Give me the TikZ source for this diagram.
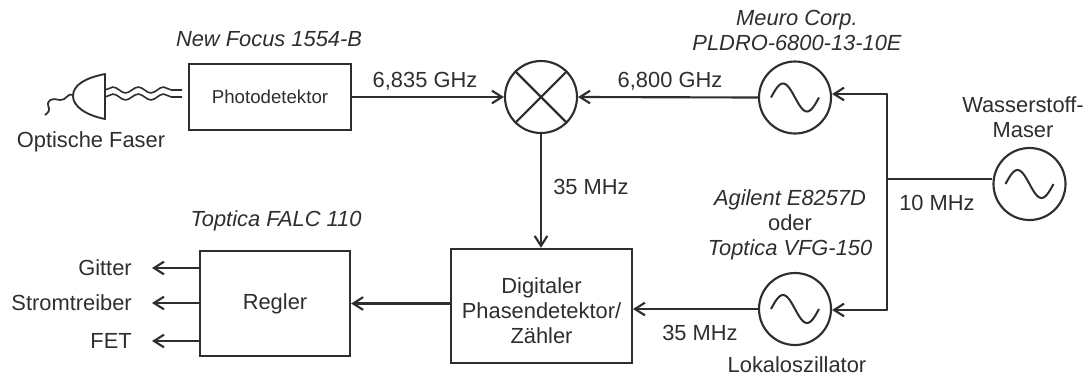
\documentclass[tikz,border=0pt]{standalone}
\usepackage{fontspec}
\setmainfont{Liberation Sans}
\usetikzlibrary{arrows.meta,decorations.pathmorphing}
\definecolor{linecol}{HTML}{2E2E2E}
\newcommand{\labelSize}{\fontsize{16.4pt}{18.8pt}\selectfont}
\newcommand{\smallSize}{\fontsize{14pt}{17pt}\selectfont}
\tikzset{
	conn/.style={line width=1.6pt, linecol, -{Straight Barb[length=7.5pt,width=9.5pt,line width=1.6pt]}},
	wire/.style={line width=1.6pt, linecol},
	block/.style={draw=linecol, line width=1.7pt, rectangle, inner sep=0pt, align=center, text=linecol, font=\labelSize},
	lbl/.style={text=linecol, font=\labelSize, inner sep=0pt, align=center},
	typ/.style={lbl, font=\labelSize\itshape},
	mixer/.style={draw=linecol, line width=1.6pt, circle, inner sep=0pt, minimum size=54pt},
	osc/.style={mixer, path picture={
		\draw[line width=1.5pt, linecol, shift={(path picture bounding box.center)}, domain=-24:24, samples=37, smooth]
			plot (\x, {14*sin(\x/24*180)});
	}},
	wave/.style={line width=1.2pt, linecol, decorate, decoration={snake, amplitude=2.2pt, segment length=19pt}}
}
\begin{document}
\begin{tikzpicture}[x=0.75pt, y=-0.75pt]
	\useasboundingbox (0,0) rectangle (1090,376);
	% Bloecke
	\node[block, minimum width=121pt, minimum height=49.5pt, font=\smallSize] (photodetektor) at (270,97) {Photodetektor};
	\node[mixer] (mischer) at (541,97) {};
	\node[osc] (oszMeuro) at (795,97.5) {};
	\node[osc] (oszLokal) at (795,309) {};
	\node[osc] (oszMaser) at (1029.5,184) {};
	\node[block, minimum width=135.5pt, minimum height=85.5pt] (zaehler) at (541.5,306) {\rule{0pt}{19pt}Digitaler\\Phasendetektor/\\Zähler};
	\node[block, minimum width=112.5pt, minimum height=78.5pt] (regler) at (275,303.5) {Regler};
	% Beschriftung
	\node[typ] (lblFocus) at (269,39) {New Focus 1554-B};
	\node[typ] (lblMeuro) at (797,30.5) {Meuro Corp.\\PLDRO-6800-13-10E};
	\node[typ] (lblFalc) at (276,221) {Toptica FALC 110};
	\node[lbl] (lblFaser) at (91,142) {Optische Faser};
	\node[lbl] (lblSignal) at (425,81) {6,835 GHz};
	\node[lbl] (lblRef) at (670,81) {6,800 GHz};
	\node[lbl] (lblMaser) at (1023,117.5) {Wasserstoff-\\Maser};
	\node[lbl] (lblZehn) at (937,203) {10 MHz};
	\node[lbl] (lblMisch) at (591,187) {35 MHz};
	\node[lbl] (lblLokal) at (700,333) {35 MHz};
	\node[lbl] (lblAgilent) at (790,225) {\textit{Agilent E8257D}\\oder\\\textit{Toptica VFG-150}};
	\node[lbl] (lblOsz) at (797,365) {Lokaloszillator};
	\node[lbl, anchor=east] (lblGitter) at (132,268) {Gitter};
	\node[lbl, anchor=east] (lblStrom) at (132,303) {Stromtreiber};
	\node[lbl, anchor=east] (lblFet) at (132,341) {FET};
	% Mischer
	\draw[wire] (mischer.north west) -- (mischer.south east);
	\draw[wire] (mischer.north east) -- (mischer.south west);
	% Verbindungen
	\coordinate (knotenOben) at (887,94);
	\coordinate (knotenUnten) at (887,310);
	\draw[wire] (oszMaser.west |- 0,179) -- (887,179);
	\draw[wire, line cap=round] (knotenOben) -- (knotenUnten);
	\draw[conn] (knotenOben) -- (knotenOben -| oszMeuro.east);
	\draw[conn] (knotenUnten) -- (knotenUnten -| oszLokal.east);
	\draw[conn] (photodetektor.east) -- (mischer.west);
	\draw[conn] (oszMeuro.west) -- (mischer.east);
	\draw[conn] (mischer.south) -- (mischer.south |- zaehler.north);
	\draw[conn] (oszLokal.west) -- (oszLokal.west -| zaehler.east);
	\draw[conn] (zaehler.west |- regler.east) -- (regler.east);
	\foreach \lbl in {lblGitter,lblStrom,lblFet}
		\draw[conn] (\lbl.east -| regler.west) -- ([xshift=15pt]\lbl.east);
	% Faser
	\coordinate (faserFlach) at (105,74);
	\coordinate (faserA) at (105,90);
	\coordinate (faserB) at (105,97);
	\draw[wire, line width=1.4pt, line join=round] (faserFlach) .. controls (85,78) and (73,85) .. (73,96) .. controls (73,106) and (85,115) .. (105,119) -- cycle;
	\draw[wire, line width=1.3pt] (73,95) .. controls (68,92) and (66,101) .. (60,100) .. controls (54,99) and (50,98) .. (48,103) .. controls (47,108) and (53,109) .. (45,115);
	\draw[wave] (faserA) -- (faserA -| 182,0);
	\draw[wave] (faserB) -- (faserB -| 182,0);
\end{tikzpicture}
\end{document}
